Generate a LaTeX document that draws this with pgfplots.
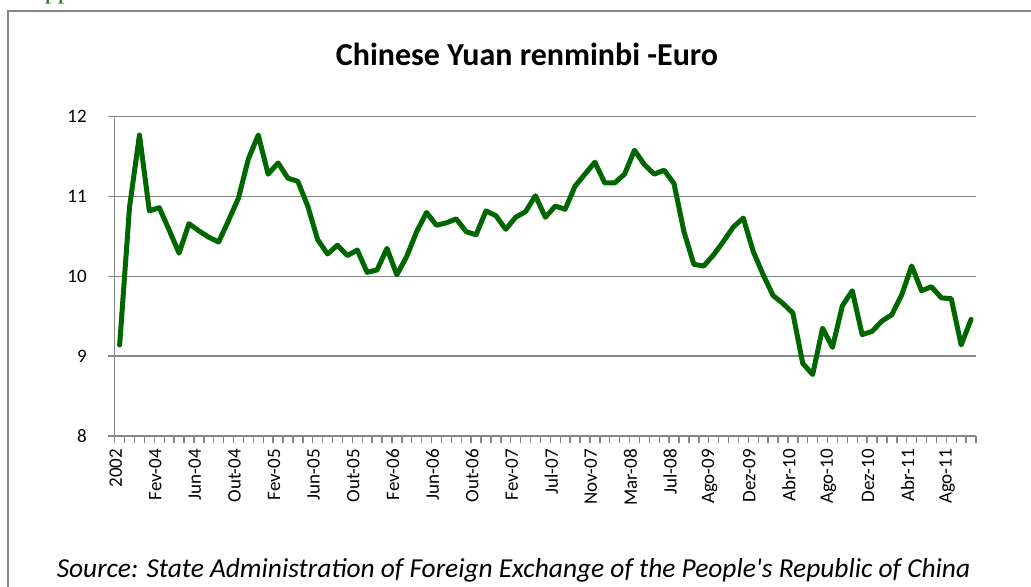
\documentclass[border=0pt]{standalone}
\usepackage{fontspec}
\setmainfont{Carlito}
\newfontfamily\serifhead{Liberation Serif}
\usepackage{pgfplots}
\usepackage{pgfplotstable}
\pgfplotsset{compat=1.18}

\definecolor{linegreen}{RGB}{0,102,0}
\definecolor{gridgray}{RGB}{134,134,134}

% CNY per EUR, one row per category
\pgfplotstableread{
i v
0 9.14
1 10.87
2 11.77
3 10.82
4 10.86
5 10.58
6 10.29
7 10.66
8 10.57
9 10.49
10 10.43
11 10.70
12 10.98
13 11.47
14 11.77
15 11.28
16 11.42
17 11.23
18 11.19
19 10.88
20 10.46
21 10.28
22 10.39
23 10.26
24 10.33
25 10.05
26 10.08
27 10.35
28 10.02
29 10.25
30 10.56
31 10.80
32 10.64
33 10.67
34 10.72
35 10.56
36 10.52
37 10.82
38 10.76
39 10.59
40 10.74
41 10.81
42 11.01
43 10.74
44 10.88
45 10.84
46 11.13
47 11.28
48 11.43
49 11.17
50 11.17
51 11.28
52 11.58
53 11.40
54 11.28
55 11.33
56 11.16
57 10.56
58 10.15
59 10.13
60 10.27
61 10.44
62 10.62
63 10.73
64 10.31
65 10.02
66 9.76
67 9.66
68 9.54
69 8.91
70 8.77
71 9.35
72 9.11
73 9.63
74 9.82
75 9.27
76 9.31
77 9.44
78 9.52
79 9.77
80 10.13
81 9.82
82 9.87
83 9.73
84 9.72
85 9.14
86 9.46
}\rates

\begin{document}
\begin{tikzpicture}
\useasboundingbox (0,0) rectangle (515.5pt,293.5pt);
% chart frame (cut off at right and bottom)
\draw[gridgray, line width=0.9pt] (4pt,-10pt) -- (4pt,288pt) -- (530pt,288pt);
\node[anchor=base west, text=green!50!black, font=\serifhead\fontsize{13}{15}\selectfont] at (9.5pt,294pt) {Appendix};
\node[font=\bfseries\fontsize{16}{19}\selectfont] at (263.5pt,266.5pt) {Chinese Yuan renminbi -Euro};
\node[font=\itshape\fontsize{13.7}{16}\selectfont] at (256.75pt,8.5pt) {Source: State Administration of Foreign Exchange of the People\textquotesingle s Republic of China};
\begin{axis}[
  at={(57.35pt,75.5pt)}, anchor=south west,
  scale only axis, width=430.65pt, height=159.65pt,
  xmin=0, xmax=87, ymin=8, ymax=12,
  ytick={8,9,10,11,12},
  xtick={0,...,87}, xticklabels={},
  extra x ticks={0.5,4.5,...,84.5},
  extra x tick labels={2002,Fev-04,Jun-04,Out-04,Fev-05,Jun-05,Out-05,Fev-06,Jun-06,Out-06,Fev-07,Jul-07,Nov-07,Mar-08,Jul-08,Ago-09,Dez-09,Abr-10,Ago-10,Dez-10,Abr-11,Ago-11},
  extra x tick style={major tick length=0pt, grid=none},
  axis x line*=bottom, axis y line*=left,
  axis line style={gridgray, line width=0.7pt, -},
  tick style={gridgray, line width=0.7pt},
  tick align=outside, major tick length=3.5pt,
  ymajorgrids, grid style={gridgray, line width=0.7pt},
  /pgf/number format/assume math mode=true,
  yticklabel style={font=\fontsize{9.5}{11}\selectfont, xshift=-7pt},
  % after rotate=90: xshift moves up/down, yshift moves left/right
  xticklabel style={font=\fontsize{9.5}{11}\selectfont, rotate=90, anchor=east, xshift=-3pt, yshift=2pt},
  clip=false,
]
\addplot[linegreen, line width=2.5pt, line join=round, line cap=round] table[x expr=\coordindex+0.5, y=v] {\rates};
\end{axis}
\end{tikzpicture}
\end{document}
